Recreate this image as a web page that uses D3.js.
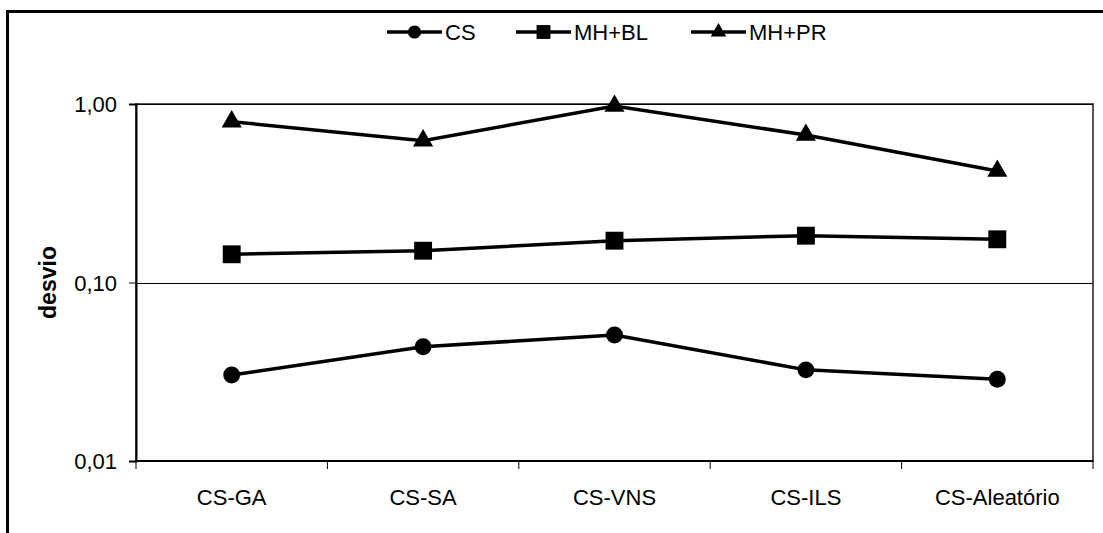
<!DOCTYPE html>
<html>
<head>
<meta charset="utf-8">
<script src="https://cdn.jsdelivr.net/npm/d3@7"></script>
<style>
  body { margin: 0; background: #fff; }
  svg text { font-family: "Liberation Sans", Arial, sans-serif; fill: #000; }
</style>
</head>
<body>
<div id="chart"></div>
<script>
// data
const categories = ['CS-GA', 'CS-SA', 'CS-VNS', 'CS-ILS', 'CS-Aleatório'];
const seriesNames = ['CS', 'MH+BL', 'MH+PR'];
const csValues = [0.0303, 0.0437, 0.0508, 0.0324, 0.0287];
const mhblValues = [0.1439, 0.1507, 0.1715, 0.1829, 0.1746];
const mhprValues = [0.796, 0.623, 0.974, 0.670, 0.421];
const yTicks = [0.01, 0.1, 1];

const series = [
    { name: seriesNames[0], values: csValues, symbol: d3.symbolCircle, size: 225 },
    { name: seriesNames[1], values: mhblValues, symbol: d3.symbolSquare, size: 320 },
    { name: seriesNames[2], values: mhprValues, symbol: d3.symbolTriangle, size: 175 }
];

const svgwidth = 1103;
const svgheight = 533;
const plotLeft = 136, plotRight = 1093, plotTop = 104, plotBottom = 461;

const svg = d3.select('#chart')
    .append('svg')
    .attr('width', svgwidth)
    .attr('height', svgheight);

// outer frame (cut by the picture on the right and bottom)
svg.append('rect')
    .attr('x', 7.5).attr('y', 11.5)
    .attr('width', 1200).attr('height', 600)
    .attr('fill', 'none')
    .attr('stroke', '#000')
    .attr('stroke-width', 3);

const xscale = d3.scaleBand()
    .domain(categories)
    .range([plotLeft, plotRight])
    .padding(0);

const yscale = d3.scaleLog()
    .domain([0.01, 1])
    .range([plotBottom, plotTop]);

const ptLocale = d3.formatLocale({ decimal: ',', thousands: '.', grouping: [3], currency: ['', ''] });
const fmt = ptLocale.format('.2f');

// plot area border
svg.append('rect')
    .attr('x', plotLeft).attr('y', plotTop)
    .attr('width', plotRight - plotLeft).attr('height', plotBottom - plotTop)
    .attr('fill', 'none')
    .attr('stroke', '#555')
    .attr('stroke-width', 2);

// gridlines
svg.append('g')
    .selectAll('line')
    .data(yTicks)
    .join('line')
    .attr('x1', plotLeft).attr('x2', plotRight)
    .attr('y1', d => Math.round(yscale(d)) + 0.5)
    .attr('y2', d => Math.round(yscale(d)) + 0.5)
    .attr('stroke', '#000')
    .attr('stroke-width', 1);

// y axis
const yaxis = d3.axisLeft(yscale)
    .tickValues(yTicks)
    .tickFormat(fmt)
    .tickSize(7)
    .tickPadding(12);

const gy = svg.append('g')
    .attr('transform', `translate(${plotLeft}, 0)`)
    .call(yaxis);
gy.select('.domain').attr('stroke', '#000').attr('stroke-width', 2);
gy.selectAll('.tick line').attr('stroke', '#000');
gy.selectAll('text').style('font-size', '22px').attr('dy', '0.35em');

// x axis: labels centred in bands, ticks on band edges
const xaxis = d3.axisBottom(xscale).tickSize(0).tickPadding(28);
const gx = svg.append('g')
    .attr('transform', `translate(0, ${plotBottom})`)
    .call(xaxis);
gx.select('.domain').remove();
gx.selectAll('text').style('font-size', '22px');

svg.append('line')
    .attr('x1', plotLeft).attr('x2', plotRight)
    .attr('y1', plotBottom).attr('y2', plotBottom)
    .attr('stroke', '#000').attr('stroke-width', 2);

const edges = categories.map(c => xscale(c)).concat([xscale(categories[categories.length - 1]) + xscale.bandwidth()]);
svg.append('g')
    .selectAll('line')
    .data(edges)
    .join('line')
    .attr('x1', d => d).attr('x2', d => d)
    .attr('y1', plotBottom).attr('y2', plotBottom + 8)
    .attr('stroke', '#000').attr('stroke-width', 1);

// y title
svg.append('text')
    .attr('transform', `translate(56, ${(plotTop + plotBottom) / 2}) rotate(-90)`)
    .attr('text-anchor', 'middle')
    .style('font-size', '23px')
    .style('font-weight', 'bold')
    .text('desvio');

// lines and markers
const line = d3.line()
    .x((d, i) => xscale(categories[i]) + xscale.bandwidth() / 2)
    .y(d => yscale(d));

series.forEach(s => {
    svg.append('path')
        .datum(s.values)
        .attr('d', line)
        .attr('fill', 'none')
        .attr('stroke', '#000')
        .attr('stroke-width', 3.5);

    svg.append('g')
        .selectAll('path')
        .data(s.values)
        .join('path')
        .attr('transform', (d, i) => `translate(${xscale(categories[i]) + xscale.bandwidth() / 2}, ${yscale(d)})`)
        .attr('d', d3.symbol().type(s.symbol).size(s.size))
        .attr('fill', '#000');
});

// legend
const legendX = [387, 516, 691];
const legend = svg.append('g');
series.forEach((s, i) => {
    const g = legend.append('g').attr('transform', `translate(${legendX[i]}, 32)`);
    g.append('line')
        .attr('x1', 0).attr('x2', 55)
        .attr('stroke', '#000').attr('stroke-width', 3.5);
    g.append('path')
        .attr('transform', 'translate(27.5, 0)')
        .attr('d', d3.symbol().type(s.symbol).size(s.size * 0.6))
        .attr('fill', '#000');
    g.append('text')
        .attr('x', 58).attr('dy', '0.35em')
        .style('font-size', '22px')
        .text(s.name);
});
</script>
</body>
</html>
